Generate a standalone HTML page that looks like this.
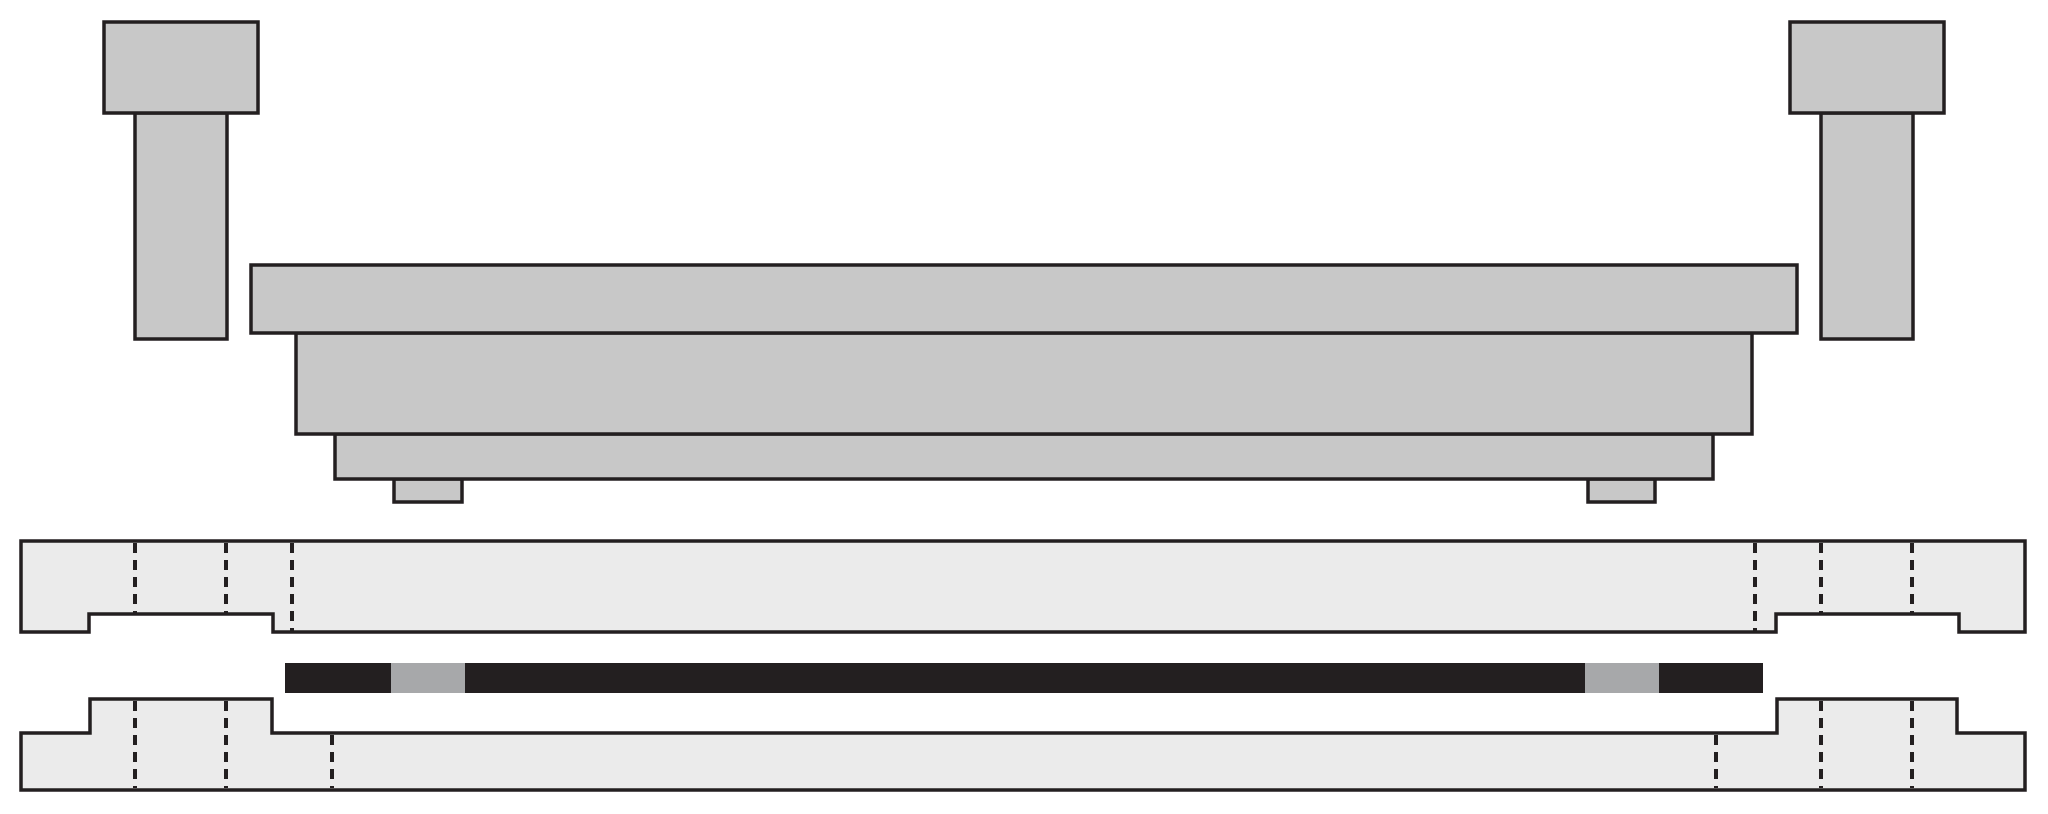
<!DOCTYPE html>
<html><head><meta charset="utf-8"><style>html,body{margin:0;padding:0;background:#fff}svg{display:block}</style></head>
<body>
<svg width="2048" height="814" viewBox="0 0 2048 814" xmlns="http://www.w3.org/2000/svg">
<g stroke="#231f20" stroke-width="3.5" fill="#c8c8c8">
  <rect x="135" y="113" width="92" height="226"/>
  <rect x="104" y="22" width="154" height="91"/>
  <rect x="1821" y="113" width="92" height="226"/>
  <rect x="1790" y="22" width="154" height="91"/>
  <rect x="394" y="479" width="68" height="23"/>
  <rect x="1588" y="479" width="67" height="23"/>
  <rect x="335" y="434" width="1378" height="45"/>
  <rect x="296" y="333" width="1456" height="101"/>
  <rect x="251" y="265" width="1546" height="68"/>
</g>
<g stroke="#231f20" stroke-width="3.5" fill="#ebebeb">
  <path d="M21 541 H2025 V632 H1959 V614 H1776 V632 H273 V614 H89 V632 H21 Z"/>
  <path d="M21 733 H90 V699 H272 V733 H1777 V699 H1957 V733 H2025 V790 H21 Z"/>
</g>
<g stroke="#231f20" stroke-width="4" stroke-dasharray="10,7">
  <line x1="135" y1="543" x2="135" y2="614"/>
  <line x1="226" y1="543" x2="226" y2="614"/>
  <line x1="292" y1="543" x2="292" y2="632"/>
  <line x1="1755" y1="543" x2="1755" y2="632"/>
  <line x1="1821" y1="543" x2="1821" y2="614"/>
  <line x1="1912" y1="543" x2="1912" y2="614"/>
  <line x1="135" y1="701" x2="135" y2="788"/>
  <line x1="226" y1="701" x2="226" y2="788"/>
  <line x1="332" y1="735" x2="332" y2="788"/>
  <line x1="1716" y1="735" x2="1716" y2="788"/>
  <line x1="1821" y1="701" x2="1821" y2="788"/>
  <line x1="1912" y1="701" x2="1912" y2="788"/>
</g>
<rect x="285" y="663" width="1478" height="30" fill="#231f20"/>
<rect x="391" y="663" width="74" height="30" fill="#a7a8aa"/>
<rect x="1585" y="663" width="74" height="30" fill="#a7a8aa"/>
</svg>
</body></html>
